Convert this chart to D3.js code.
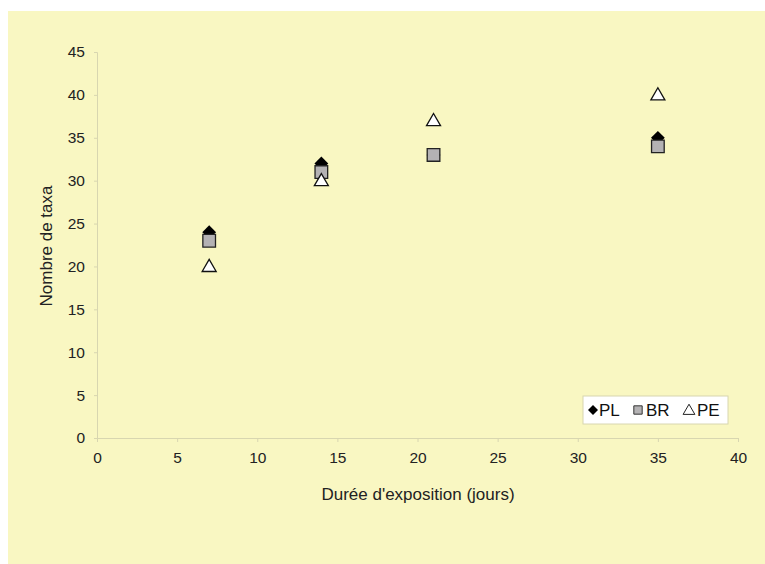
<!DOCTYPE html>
<html><head><meta charset="utf-8">
<script src="https://cdn.jsdelivr.net/npm/d3@7/dist/d3.min.js"></script>
<style>body{margin:0;background:#fff}svg{display:block}</style>
</head><body>
<svg id="c" width="765" height="564"></svg>
<script>
const days = [7, 14, 21, 35];
const PL = [24, 32, 33, 35];
const BR = [23, 31, 33, 34];
const PE = [20, 30, 37, 40];
const xTicks = [0,5,10,15,20,25,30,35,40];
const yTicks = [0,5,10,15,20,25,30,35,40,45];

const svg = d3.select("#c");
svg.append("rect").attr("x",8).attr("y",11).attr("width",757).attr("height",553).attr("fill","#f9f7c2");

const x = d3.scaleLinear().domain([0,40]).range([97,738]);
const y = d3.scaleLinear().domain([0,45]).range([438,52]);
const font = "Liberation Sans, Arial, sans-serif";
const axCol = "#d8d6b0";

const xa = svg.append("g").attr("transform","translate(0,438)")
  .call(d3.axisBottom(x).tickValues(xTicks).tickSize(4).tickPadding(10));
const ya = svg.append("g").attr("transform","translate(97,0)")
  .call(d3.axisLeft(y).tickValues(yTicks).tickSize(3).tickPadding(9));
[xa,ya].forEach(a=>{
  a.selectAll("path,line").attr("stroke",axCol);
  a.selectAll("text").attr("fill","#222").attr("font-family",font).attr("font-size",15.5);
});

svg.append("text").attr("x",418).attr("y",500).attr("text-anchor","middle")
  .attr("font-family",font).attr("font-size",17).attr("fill","#222").text("Durée d'exposition (jours)");
svg.append("text").attr("transform","translate(52,246) rotate(-90)").attr("text-anchor","middle")
  .attr("font-family",font).attr("font-size",17).attr("fill","#222").text("Nombre de taxa");

const sym = (type,size)=>d3.symbol().type(type).size(size)();
const g = svg.append("g");
// PL diamonds (drawn first, behind)
g.selectAll(".pl").data(days.map((d,i)=>[d,PL[i]])).join("path")
  .attr("d", sym(d3.symbolSquare, 95))
  .attr("transform", d=>`translate(${x(d[0])},${y(d[1])}) rotate(45)`)
  .attr("fill","#000");
// BR squares
g.selectAll(".br").data(days.map((d,i)=>[d,BR[i]])).join("path")
  .attr("d", sym(d3.symbolSquare, 160))
  .attr("transform", d=>`translate(${x(d[0])},${y(d[1])})`)
  .attr("fill","#b4b2b4").attr("stroke","#222").attr("stroke-width",1.3);
// PE triangles
g.selectAll(".pe").data(days.map((d,i)=>[d,PE[i]])).join("path")
  .attr("d", sym(d3.symbolTriangle, 85))
  .attr("transform", d=>`translate(${x(d[0])},${y(d[1])+1})`)
  .attr("fill","#fff").attr("stroke","#111").attr("stroke-width",1.3);

// legend
const lg = svg.append("g");
lg.append("rect").attr("x",583).attr("y",396).attr("width",145).attr("height",28)
  .attr("fill","#fff").attr("stroke","#d8d6b0");
const ly = 410;
lg.append("path").attr("d",sym(d3.symbolSquare,50)).attr("transform",`translate(593,${ly}) rotate(45)`).attr("fill","#000");
lg.append("text").attr("x",599).attr("y",ly+6).attr("font-family",font).attr("font-size",17).attr("fill","#111").text("PL");
lg.append("path").attr("d",sym(d3.symbolSquare,70)).attr("transform",`translate(638,${ly})`).attr("fill","#b4b2b4").attr("stroke","#333");
lg.append("text").attr("x",646).attr("y",ly+6).attr("font-family",font).attr("font-size",17).attr("fill","#111").text("BR");
lg.append("path").attr("d",sym(d3.symbolTriangle,60)).attr("transform",`translate(689,${ly+1})`).attr("fill","#fff").attr("stroke","#222");
lg.append("text").attr("x",697).attr("y",ly+6).attr("font-family",font).attr("font-size",17).attr("fill","#111").text("PE");
</script>
</body></html>
